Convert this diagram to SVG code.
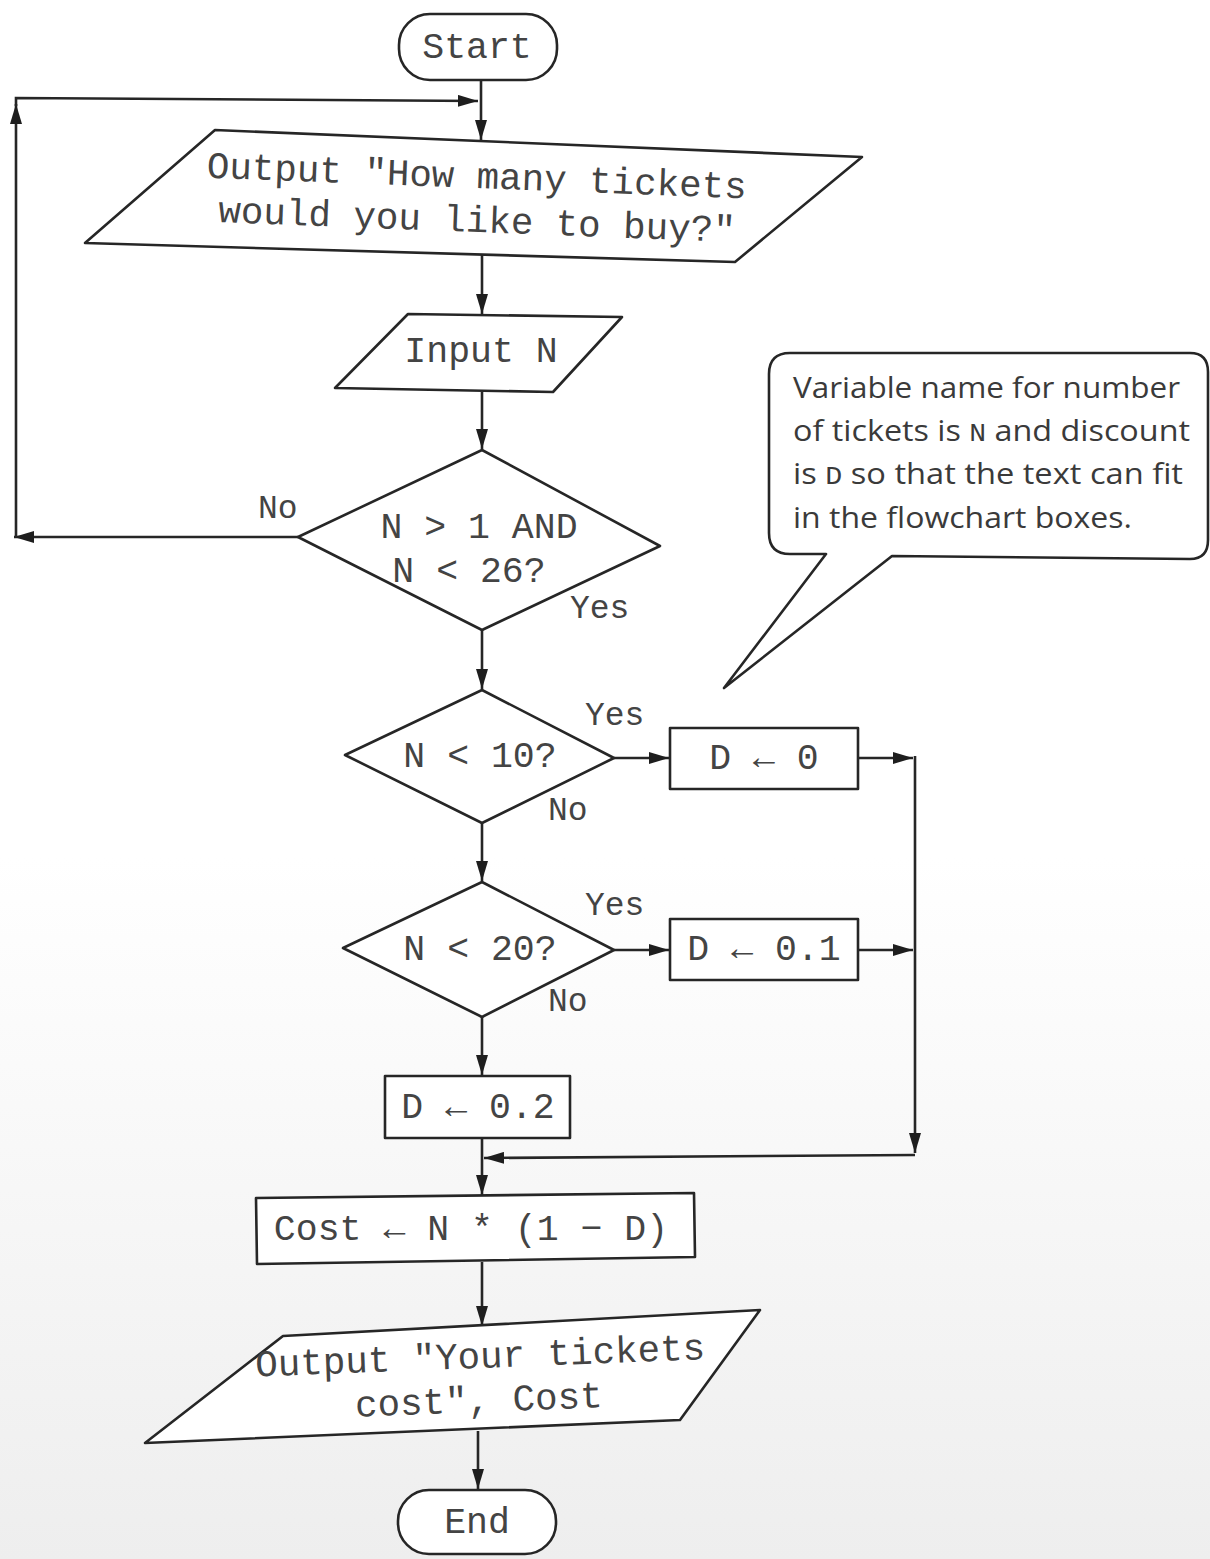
<svg xmlns="http://www.w3.org/2000/svg" width="1210" height="1559" viewBox="0 0 1210 1559">
  <style>
    .shape { fill: #ffffff; stroke: #262626; stroke-width: 2.6; stroke-linejoin: round; }
    .edge { fill: none; stroke: #262626; stroke-width: 2.6; }
    .code { font-family: "Liberation Mono", "Courier New", monospace; font-size: 36.5px; fill: #444444; }
    .wide { font-size: 37.5px; }
    .lbl { font-family: "Liberation Mono", "Courier New", monospace; font-size: 33px; fill: #444444; }
    .note { font-family: "Open Sans", "Noto Sans", sans-serif; font-size: 30px; fill: #3a3a3a; }
    .note .m { font-family: "Liberation Mono", monospace; font-size: 26px; }
  </style>
  <defs>
    <marker id="arrow" viewBox="0 0 20 12" refX="20" refY="6" markerWidth="20" markerHeight="12" markerUnits="userSpaceOnUse" orient="auto">
      <path d="M0,0 L20,6 L0,12 Z" fill="#1e1e1e"/>
    </marker>
    <linearGradient id="paper" x1="0" y1="0" x2="0" y2="1">
      <stop offset="0" stop-color="#ffffff"/>
      <stop offset="0.55" stop-color="#ffffff"/>
      <stop offset="1" stop-color="#eeeeee"/>
    </linearGradient>
  </defs>

  <rect x="0" y="0" width="1210" height="1559" fill="url(#paper)"/>

  <!-- connectors -->
  <g id="connectors">
    <path class="edge" d="M481,80 V140" marker-end="url(#arrow)"/>
    <path class="edge" d="M482,255 V314" marker-end="url(#arrow)"/>
    <path class="edge" d="M482,392 V449" marker-end="url(#arrow)"/>
    <!-- invalid count: back to the prompt -->
    <path class="edge" d="M298,537 H14" marker-end="url(#arrow)"/>
    <path class="edge" d="M16,537 V104" marker-end="url(#arrow)"/>
    <path class="edge" d="M16,106 V98 L478,101" marker-end="url(#arrow)"/>
    <path class="edge" d="M482,630 V689" marker-end="url(#arrow)"/>
    <path class="edge" d="M614,758 H669" marker-end="url(#arrow)"/>
    <path class="edge" d="M482,823 V881" marker-end="url(#arrow)"/>
    <path class="edge" d="M614,950 H669" marker-end="url(#arrow)"/>
    <path class="edge" d="M482,1017 V1075" marker-end="url(#arrow)"/>
    <!-- discount branches merge -->
    <path class="edge" d="M858,758 H913" marker-end="url(#arrow)"/>
    <path class="edge" d="M858,950 H913" marker-end="url(#arrow)"/>
    <path class="edge" d="M915,756 V1153" marker-end="url(#arrow)"/>
    <path class="edge" d="M915,1155 L484,1158" marker-end="url(#arrow)"/>
    <path class="edge" d="M482,1138 V1195" marker-end="url(#arrow)"/>
    <path class="edge" d="M482,1262 V1326" marker-end="url(#arrow)"/>
    <path class="edge" d="M478,1431 V1489" marker-end="url(#arrow)"/>
    <!-- branch labels -->
    <text class="lbl" x="258" y="518">No</text>
    <text class="lbl" x="570" y="618">Yes</text>
    <text class="lbl" x="585" y="725">Yes</text>
    <text class="lbl" x="548" y="820">No</text>
    <text class="lbl" x="585" y="915">Yes</text>
    <text class="lbl" x="548" y="1011">No</text>
  </g>

  <g id="start">
    <rect class="shape" x="399" y="14" width="158" height="66" rx="31"/>
    <text class="code" x="477" y="58" text-anchor="middle">Start</text>
  </g>

  <g id="output-prompt">
    <polygon class="shape" points="215,130 862,157 735,262 85,243"/>
    <g transform="rotate(2.2 476 197)">
      <text class="code wide" x="476" y="188" text-anchor="middle">Output "How many tickets</text>
      <text class="code wide" x="478" y="232" text-anchor="middle">would you like to buy?"</text>
    </g>
  </g>

  <g id="input-n">
    <polygon class="shape" points="408,314 622,317 553,392 335,388"/>
    <text class="code" x="481" y="362" text-anchor="middle">Input N</text>
  </g>

  <g id="check-range">
    <polygon class="shape" points="482,450 660,546 482,630 298,537"/>
    <text class="code" x="479" y="538" text-anchor="middle">N &gt; 1 AND</text>
    <text class="code" x="469" y="582" text-anchor="middle">N &lt; 26?</text>
  </g>

  <g id="check-10">
    <polygon class="shape" points="482,690 614,758 482,823 345,755"/>
    <text class="code" x="480" y="767" text-anchor="middle">N &lt; 10?</text>
  </g>

  <g id="discount-0">
    <rect class="shape" x="670" y="728" width="188" height="61"/>
    <text class="code" x="764" y="769" text-anchor="middle">D ← 0</text>
  </g>

  <g id="check-20">
    <polygon class="shape" points="482,882 614,950 482,1017 343,948"/>
    <text class="code" x="480" y="960" text-anchor="middle">N &lt; 20?</text>
  </g>

  <g id="discount-01">
    <rect class="shape" x="670" y="919" width="188" height="61"/>
    <text class="code" x="764" y="960" text-anchor="middle">D ← 0.1</text>
  </g>

  <g id="discount-02">
    <rect class="shape" x="385" y="1076" width="185" height="62"/>
    <text class="code" x="478" y="1118" text-anchor="middle">D ← 0.2</text>
  </g>

  <g id="cost">
    <polygon class="shape" points="256,1198 694,1193 695,1257 257,1264"/>
    <text class="code" x="471" y="1240" text-anchor="middle">Cost ← N * (1 − D)</text>
  </g>

  <g id="output-cost">
    <polygon class="shape" points="283,1336 760,1310 680,1420 145,1443"/>
    <g transform="rotate(-2.2 478 1378)">
      <text class="code wide" x="481" y="1368" text-anchor="middle">Output "Your tickets</text>
      <text class="code wide" x="478" y="1412" text-anchor="middle">cost", Cost</text>
    </g>
  </g>

  <g id="end">
    <rect class="shape" x="398" y="1490" width="158" height="64" rx="31"/>
    <text class="code" x="477" y="1533" text-anchor="middle">End</text>
  </g>

  <g id="note">
    <path class="shape" stroke-width="1.8" d="M790,353 H1190 Q1208,353 1208,372 V540 Q1208,559 1190,559 L892,556 L724,688 L826,554 L790,554 Q769,554 769,533 V374 Q769,353 790,353 Z"/>
    <text class="note" x="793" y="398" textLength="387" lengthAdjust="spacingAndGlyphs">Variable name for number</text>
    <text class="note" x="793" y="441" textLength="397" lengthAdjust="spacingAndGlyphs">of tickets is <tspan class="m">N</tspan> and discount</text>
    <text class="note" x="793" y="484" textLength="390" lengthAdjust="spacingAndGlyphs">is <tspan class="m">D</tspan> so that the text can fit</text>
    <text class="note" x="793" y="528" textLength="339" lengthAdjust="spacingAndGlyphs">in the flowchart boxes.</text>
  </g>
</svg>
